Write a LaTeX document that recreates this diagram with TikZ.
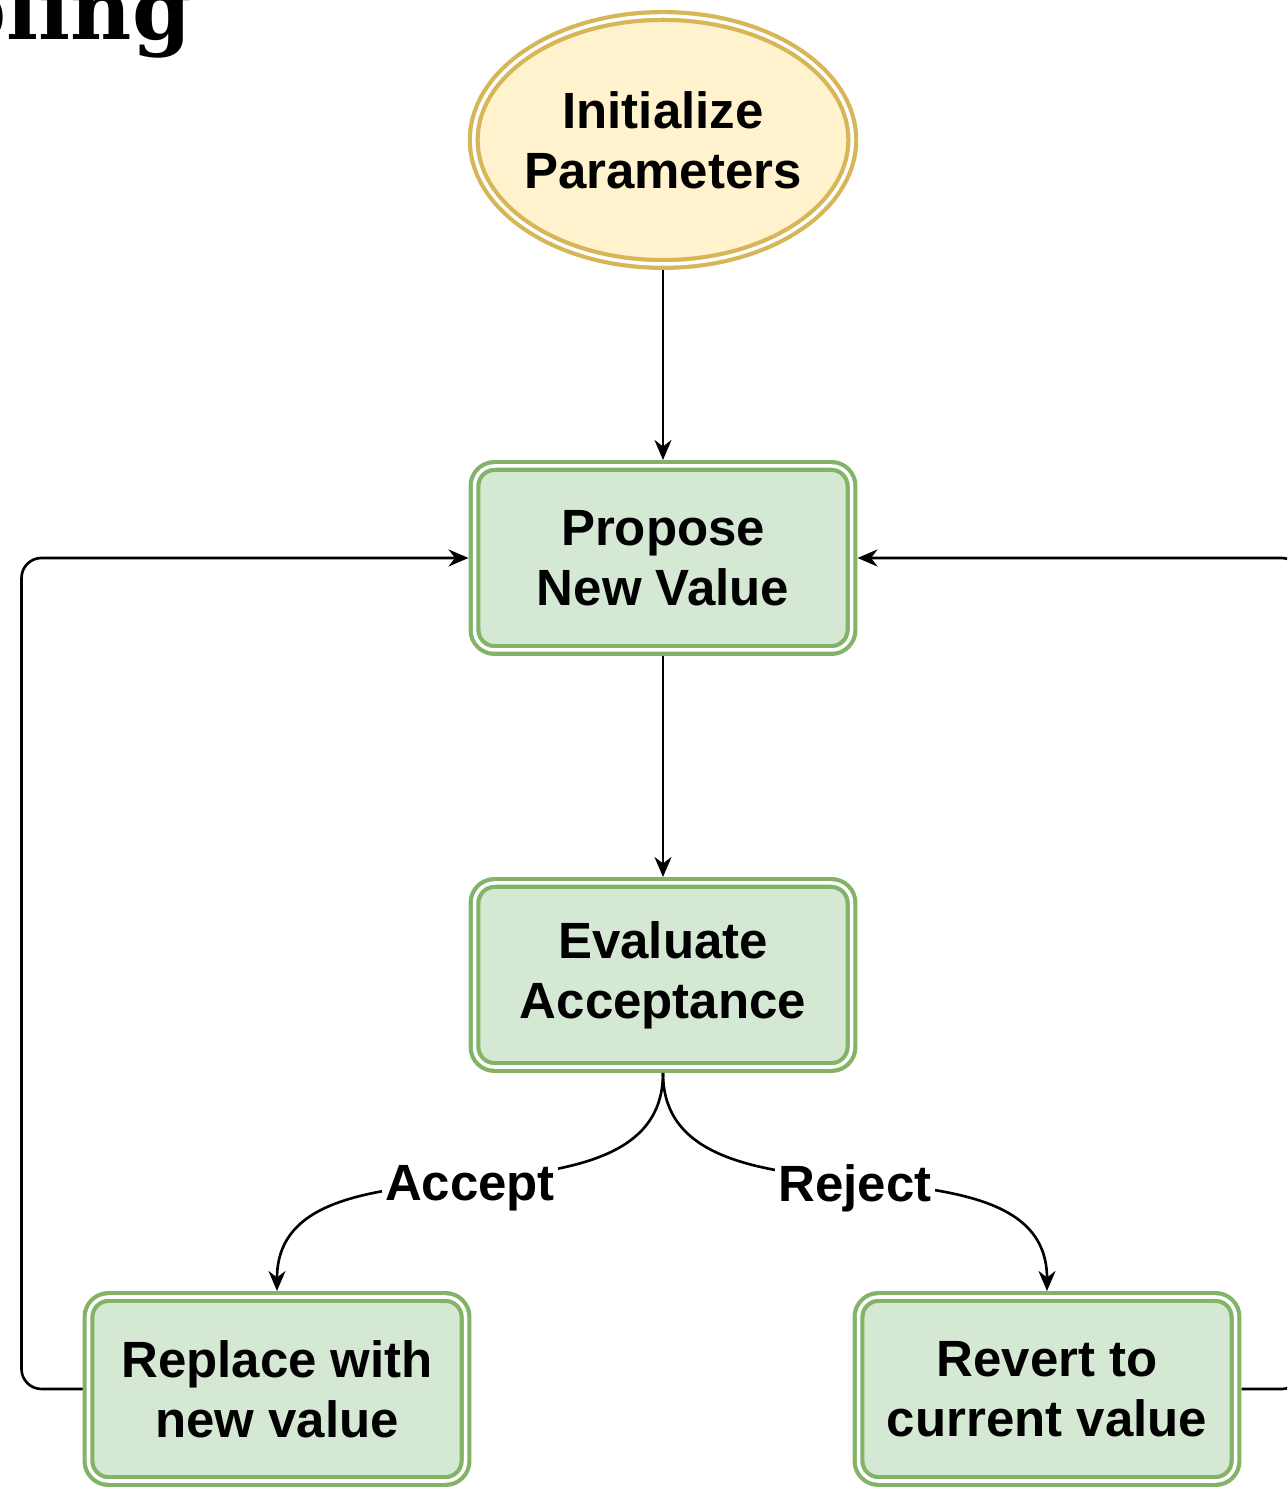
\documentclass[tikz,border=0pt]{standalone}
\usepackage{fontspec}
\setmainfont{Liberation Sans}
\newfontfamily\headfont{DejaVu Serif}
\usetikzlibrary{shapes.geometric, arrows.meta, positioning}
\definecolor{startfill}{HTML}{FFF2CC}
\definecolor{startline}{HTML}{D6B656}
\definecolor{boxfill}{HTML}{D5E8D4}
\definecolor{boxline}{HTML}{82B366}

\begin{document}
\begin{tikzpicture}[
    startnode/.style={ellipse, draw=startline, fill=startfill, double=white, line width=1.2pt, double distance=1pt, minimum width=3.77cm, minimum height=2.48cm, inner xsep=-0.05cm, inner ysep=0pt, outer sep=0.06cm, align=center, font=\fontsize{14.5}{17}\selectfont\bfseries},
    stepbox/.style={rectangle, rounded corners=0.2cm, draw=boxline, fill=boxfill, double=white, line width=1.2pt, double distance=1pt, minimum width=3.77cm, minimum height=1.84cm, inner sep=0pt, outer sep=0.06cm, align=center, font=\fontsize{14.5}{17}\selectfont\bfseries},
    arrow/.style={-{Stealth[length=0.2cm, width=0.17cm]}, line width=0.75pt},
    choice/.style={fill=white, inner sep=1pt, font=\fontsize{14.5}{17}\selectfont\bfseries}
]
\useasboundingbox (0,0) rectangle (12.87,14.87);
\clip (0,0) rectangle (12.87,14.87);

% Heading (cut off by the frame)
\node[anchor=base east, inner sep=0pt, font=\headfont\fontsize{24}{27}\selectfont\bfseries] (head) at (1.92,14.47) {Sampling};

% Start
\node[startnode] (init) at (6.63,13.47) {Initialize\\Parameters};

% Steps
\node[stepbox] (prop) at (6.63,9.29) {Propose\\New Value};
\node[stepbox] (eval) at (6.63,5.12) {Evaluate\\Acceptance};
\node[stepbox] (rep) at (2.77,0.98) {Replace with\\new value};
\node[stepbox] (rev) at (10.47,0.98) {Revert to\\current value};

% Arrows
\draw[arrow] (init.south) -- (prop.north);
\draw[arrow] (prop.south) -- (eval.north);
\draw[arrow] (eval.south) to[out=-90, in=90] node[choice, midway, yshift=-0.06cm] {Accept} (rep.north);
\draw[arrow] (eval.south) to[out=-90, in=90] node[choice, midway, yshift=-0.06cm] {Reject} (rev.north);

% Loops back
\draw[arrow, rounded corners=0.2cm] (rep.west) -- ++(-0.61,0) |- (prop.west);
\draw[arrow, rounded corners=0.2cm] (rev.east) -- ++(0.6,0) |- (prop.east);

\end{tikzpicture}
\end{document}
